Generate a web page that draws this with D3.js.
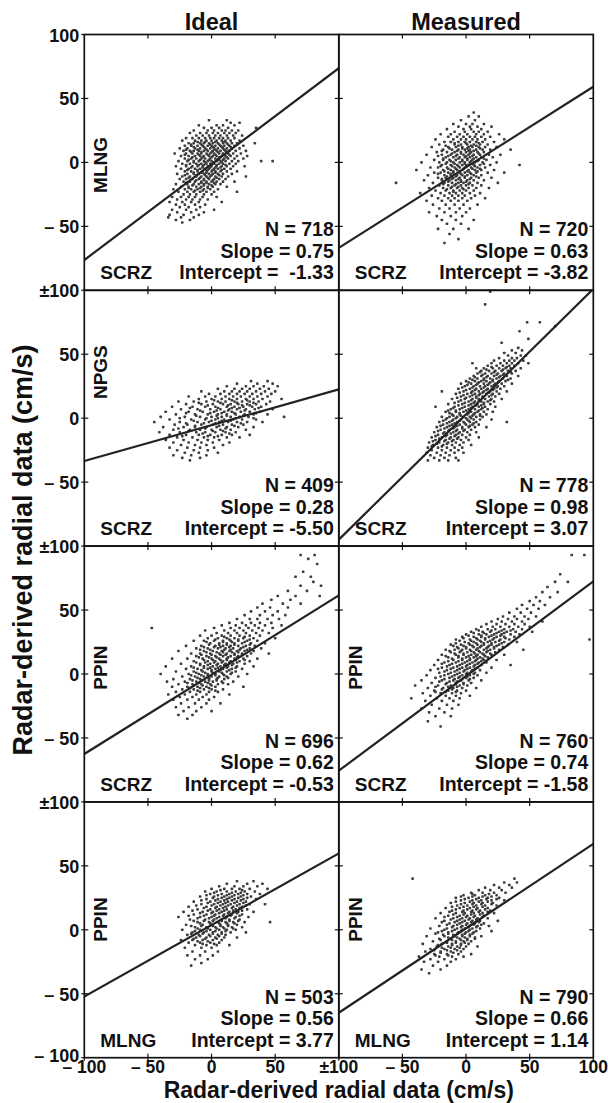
<!DOCTYPE html>
<html><head><meta charset="utf-8">
<script src="https://cdn.jsdelivr.net/npm/d3@7"></script>
<style>
body{margin:0;background:#fff}
svg{display:block;font-family:"Liberation Sans",Arial,Helvetica,sans-serif;font-weight:bold}
</style>
</head><body>
<svg id="chart" width="608" height="1103"></svg>
<script>
// ---------- data ----------
const columnTitles = ["Ideal", "Measured"];
const axisTitle = "Radar-derived radial data (cm/s)";
const yTickValues = [100, 50, 0, -50];
const yTickLabelsFirst = ["100", "50", "0", "\u2013 50"];
const yTickLabelsOther = ["\u00b1100", "50", "0", "\u2013 50"];
const yBottomLabel = "\u2013 100";
const xTickValues = [-100, -50, 0, 50, 100];
const xTickLabelsLeft = ["\u2013 100", "\u2013 50", "0", "50", "\u00b1100"];
const xTickLabelsRight = [null, "\u2013 50", "0", "50", "100"];

const sideStations = ["MLNG", null, "NPGS", null, "PPIN", "PPIN", "PPIN", "PPIN"];
const baseStations = ["SCRZ", "SCRZ", "SCRZ", "SCRZ", "SCRZ", "SCRZ", "MLNG", "MLNG"];
const counts = [718, 720, 409, 778, 696, 760, 503, 790];
const slopes = [0.75, 0.63, 0.28, 0.98, 0.62, 0.74, 0.56, 0.66];
const intercepts = [-1.33, -3.82, -5.50, 3.07, -0.53, -1.58, 3.77, 1.14];
const interceptGap = ["  ", " ", " ", " ", " ", " ", " ", " "];

// scatter values, rows of [y, [x, x, ...]]
const ptsIdealMLNG = [[33,[-2,12]],[31,[15,22]],[29,[-10,4,9,18]],[27,[-6,0,6,13,35]],[25,[-14,-3,2,8,11,16,21]],
[23,[-17,-9,-4,1,5,10,14,19]],[21,[-12,-7,-2,3,7,12,17,24]],[19,[-20,-15,-10,-5,-1,2,6,9,13,18]],
[17,[-23,-13,-8,-4,0,4,8,11,15,22]],[15,[-18,-14,-9,-6,-2,1,5,9,12,16,20,34]],[13,[-21,-16,-11,-7,-3,0,3,7,10,14,18,25]],
[11,[-25,-19,-13,-9,-5,-1,2,5,9,12,16,22]],[9,[-22,-17,-14,-10,-6,-3,1,4,7,11,14,19,27]],
[7,[-29,-20,-15,-11,-8,-4,-1,2,6,9,13,17,23]],[5,[-24,-18,-13,-9,-6,-2,1,4,8,11,15,20,28]],
[3,[-21,-16,-12,-8,-5,-1,3,6,10,13,18,25]],[1,[-26,-19,-14,-10,-6,-3,0,4,7,11,16,21,39,48]],
[-1,[-23,-17,-12,-8,-4,-1,2,6,9,14,19]],[-3,[-28,-20,-15,-11,-7,-3,0,4,8,12,17,26]],[-5,[-24,-18,-13,-9,-5,-2,2,5,10,15]],
[-7,[-21,-16,-11,-7,-4,0,3,7,12,20]],[-9,[-27,-19,-14,-10,-6,-2,1,5,9,16]],[-11,[-23,-17,-12,-8,-4,-1,3,8,13,27]],
[-13,[-25,-20,-15,-10,-6,-2,2,6,11]],[-15,[-22,-17,-13,-8,-4,0,4,9,18]],[-17,[-28,-19,-14,-10,-6,-2,3,7]],
[-19,[-24,-18,-12,-8,-3,1,12]],[-21,[-30,-21,-16,-11,-6,-1,5]],[-23,[-26,-19,-14,-9,-4,2,20]],[-25,[-22,-17,-12,-6,0]],
[-27,[-31,-24,-18,-13,-7,4]],[-29,[-27,-20,-15,-9,-3]],[-31,[-33,-23,-16,-10,8]],[-33,[-28,-21,-13,-5]],[-35,[-25,-18,-9]],
[-37,[-31,-20,-12,2]],[-39,[-27,-16,-6]],[-41,[-33,-22,-10]],[-43,[-34,-24,-14]],[-45,[-17,-28]],[-47,[-23]]];
const ptsIdealMLNGcore = [[16,[-11,-5,3,10]],[14,[-16,-8,-1,6,13]],[12,[-14,-6,1,8,15]],[10,[-20,-11,-4,3,10]],[8,[-16,-8,0,5,12]],
[6,[-21,-10,-3,3,9,14]],[4,[-15,-7,0,6,12]],[2,[-18,-9,-2,5,9]],[0,[-14,-5,2,8]],[-2,[-20,-10,-6,0,4,11]],[-4,[-16,-7,-1,3,7]],
[-6,[-19,-11,-3,1,8]],[-8,[-14,-8,-4,3]],[-10,[-21,-12,-5,0,6]],[-12,[-18,-9,-3,4]],[-14,[-12,-6,1]],[-16,[-20,-8,-4,2]],
[-18,[-15,-6,0]],[-20,[-18,-9,-3]],[-22,[-13,-7]]];

const ptsMeasMLNG = [[39,[6]],[36,[2,10]],[33,[-4,7]],[30,[-10,0,5,14]],[28,[-6,3,9,20]],[26,[-15,-2,4,12]],[24,[-9,-1,6,10,17]],
[22,[-20,-12,-5,1,8,14,26]],[20,[-14,-7,-2,3,7,12,19]],[18,[-24,-10,-4,0,5,9,15,30]],[16,[-17,-12,-6,-1,3,8,13,22]],
[14,[-21,-9,-4,1,6,11,17]],[12,[-27,-14,-8,-3,2,5,10,15,24]],[10,[-18,-11,-6,-1,3,8,13,19,35]],[8,[-23,-15,-9,-4,0,4,9,14]],
[6,[-31,-19,-12,-7,-2,2,6,11,18,27]],[4,[-16,-10,-5,-1,3,8,12,21]],[2,[-25,-18,-13,-8,-3,1,5,10,16]],
[0,[-35,-21,-15,-10,-5,-1,3,7,13,24]],[-2,[-19,-12,-7,-3,1,6,11,19,42]],[-4,[-28,-22,-15,-9,-5,-1,4,9,15]],
[-6,[-39,-18,-12,-7,-3,2,7,12,22]],[-8,[-25,-20,-14,-10,-5,-1,3,8,17,30]],[-10,[-30,-17,-12,-7,-3,1,6,12]],
[-12,[-22,-16,-10,-5,-1,4,10,20]],[-14,[-33,-19,-13,-8,-4,1,6,14]],[-16,[-55,-26,-17,-11,-6,-2,3,9,25]],
[-18,[-21,-14,-9,-4,0,5,12]],[-20,[-29,-18,-12,-7,-3,2,8,18]],[-22,[-24,-16,-10,-5,0,6]],[-24,[-36,-20,-13,-8,-3,3,11]],
[-26,[-27,-17,-11,-6,-1,7]],[-28,[-22,-14,-9,-3,4,15]],[-30,[-31,-19,-12,-6,1]],[-33,[-26,-16,-9,-2,9]],[-36,[-21,-13,-5,3]],
[-39,[-29,-17,-8,0]],[-42,[-23,-12,-3]],[-45,[-19,-8,6]],[-48,[-15,-4]],[-52,[-22,-10,2]],[-56,[-13]],[-60,[-6]],[-63,[-17]]];
const ptsMeasMLNGcore = [[15,[-9,0,10]],[13,[-16,-6,4,8]],[11,[-13,-3,1,11]],[9,[-19,-7,2,6]],[7,[-11,-4,3,10]],
[5,[-22,-14,-8,0,5]],[3,[-18,-6,1,6,14]],[1,[-12,-3,4,9]],[-1,[-16,-9,-1,3,14]],[-3,[-20,-11,-6,0,7]],[-5,[-14,-8,-2,5,11]],
[-7,[-17,-10,-5,1,9]],[-9,[-22,-12,-4,4]],[-11,[-15,-8,-1,8]],[-13,[-19,-11,-6,3]],[-15,[-14,-4,0]],[-17,[-18,-8,2]],
[-19,[-11,-6]],[-21,[-15,-2]],[-23,[-10]]];

const ptsIdealNPGS = [[29,[31,44]],[27,[20,36,48]],[25,[12,27,33,41,52]],[23,[5,18,24,30,38,45]],[21,[-8,10,16,22,28,35,42,50]],
[19,[-2,7,14,20,26,32,39,47]],[17,[-18,-5,3,11,17,23,30,36,44]],[15,[-10,0,8,14,20,27,33,40,55]],
[13,[-26,-14,-4,5,11,18,24,30,37,46]],[11,[-20,-8,1,9,15,21,28,35,43]],[9,[-31,-15,-5,3,12,18,25,32,39]],
[7,[-24,-11,-1,7,14,20,27,34,48]],[5,[-36,-18,-7,2,10,16,23,30,38]],[3,[-28,-13,-3,5,12,19,26,33,44]],
[1,[-40,-21,-9,0,8,15,22,29,57]],[-1,[-33,-16,-5,3,10,17,24,35]],[-3,[-45,-25,-11,-2,6,13,20,28,40]],
[-5,[-29,-19,-8,1,9,16,25]],[-7,[-38,-22,-13,-4,4,12,21,33]],[-9,[-30,-17,-9,0,7,15,27]],[-11,[-41,-25,-12,-5,3,11,19]],
[-13,[-33,-20,-10,-1,8,16,30]],[-15,[-27,-15,-6,2,12,22]],[-17,[-36,-22,-11,-3,6]],[-19,[-30,-18,-8,1,14]],
[-21,[-24,-13,-4,9]],[-23,[-33,-19,-9,2]],[-25,[-27,-14,-3]],[-27,[-21,-10,5]],[-29,[-30,-16,-4]],[-31,[-23,-9]],[-33,[-17]]];
const ptsIdealNPGScore = [[14,[2,16,28]],[12,[-10,7,20,33]],[10,[-3,13,24,30]],[8,[-17,5,16,22,37]],[6,[-9,4,13,26]],
[4,[-20,-1,8,18,35]],[2,[-12,4,12,25]],[0,[-25,-4,5,19,33]],[-2,[-14,0,8,15]],[-4,[-20,-6,3,23]],[-6,[-13,6,18]],
[-8,[-26,-5,11]],[-10,[-18,1,9]],[-12,[-7,14]],[-14,[-23,-3,5]]];

const ptsMeasNPGS = [[99,[19]],[89,[15]],[75,[48,58]],[72,[70]],[68,[42]],[62,[49]],[59,[28]],[55,[41]],[53,[36,44]],[51,[30,39]],
[49,[33,43,47]],[47,[26,36,40]],[45,[22,30,34,38,45]],[43,[5,20,27,32,36,41,49]],[41,[17,24,29,34,38]],
[39,[8,14,21,26,31,35,43]],[37,[12,18,23,28,33,39]],[35,[9,15,20,25,30,36]],[33,[6,12,17,22,27,32,41]],
[31,[3,9,14,19,24,29,35]],[29,[0,7,12,16,21,26,31]],[27,[-4,4,9,14,18,23,28,36]],[25,[-1,6,11,15,20,25,30]],
[23,[-6,3,8,12,17,22,27]],[21,[-19,-2,5,10,14,19,24,32]],[19,[-8,1,7,11,16,21,26]],[17,[-4,3,8,13,18,23]],
[15,[-11,-1,5,10,15,20,28]],[13,[-6,2,7,12,17,22]],[11,[-14,-3,4,9,14,19]],[9,[-24,-9,-1,5,10,15,23]],
[7,[-12,-5,2,7,12,17]],[5,[-16,-8,-2,4,9,14,21]],[3,[-11,-5,1,6,11,16]],[1,[-19,-13,-7,-2,3,8,13]],
[-1,[-16,-10,-4,1,6,11,20]],[-3,[-21,-13,-7,-2,3,8,32]],[-5,[-18,-11,-5,0,5,10]],[-7,[-23,-15,-9,-3,2,7,16]],
[-9,[-20,-13,-7,-1,4]],[-11,[-25,-17,-10,-5,1,8]],[-13,[-22,-15,-8,-3,3]],[-15,[-27,-19,-12,-6,0,10]],
[-17,[-24,-16,-10,-4,2]],[-19,[-29,-21,-14,-8,-2]],[-21,[-26,-18,-11,-5,4]],[-23,[-30,-22,-15,-9,-3]],
[-25,[-27,-19,-12,-6]],[-27,[-31,-23,-16,-9,-2]],[-29,[-28,-20,-13]],[-31,[-25,-17,-8]],[-33,[-30,-21,-14,-6]]];
const ptsMeasNPGScore = [[40,[20,32]],[38,[16,29]],[36,[11,22,35]],[34,[13,24,29]],[32,[7,16,26]],[30,[5,14,21,33]],
[28,[2,10,19,25]],[26,[1,8,17,22]],[24,[-3,5,14,24]],[22,[0,7,16,21]],[20,[-5,4,13,18]],[18,[-2,5,10,20]],[16,[-7,0,8,13]],
[14,[-4,4,10,19]],[12,[-9,-1,6,14]],[10,[-6,2,8,12]],[8,[-10,-3,4,13]],[6,[-14,-8,0,10]],[4,[-13,-5,2,7]],[2,[-10,-4,5,11]],
[0,[-15,-8,0,4]],[-2,[-18,-11,-5,2]],[-4,[-15,-9,-1,6]],[-6,[-20,-13,-7,3]],[-8,[-17,-10,-3]],[-10,[-22,-14,-8,-2]],
[-12,[-18,-12,-6]],[-14,[-24,-16,-9]],[-16,[-21,-13,-7]],[-18,[-26,-17,-11]],[-20,[-23,-15]],[-22,[-27,-19]]];

const ptsIdealPPIN = [[93,[70,81]],[90,[76]],[86,[83]],[80,[72]],[76,[66,78]],[72,[80]],[69,[70,86]],[65,[60,75]],[61,[52,66,85]],
[58,[47,62]],[55,[40,56,70]],[52,[36,46,60]],[49,[31,42,52]],[46,[26,38,48,58]],[43,[20,30,36,44,53]],[40,[14,24,31,38,47]],
[38,[8,19,27,34,42,55]],[36,[-47,2,15,22,29,37,48]],[34,[-5,10,18,25,32,40]],[32,[4,13,20,27,35,45]],
[30,[-9,0,8,15,22,30,38]],[28,[-3,5,12,18,25,33,50]],[26,[-14,-6,2,9,15,21,28,36]],[24,[-1,6,12,18,24,31,42]],
[22,[-20,-8,3,9,15,21,27,34]],[20,[-12,-3,5,11,17,23,30,39]],[18,[-26,-6,1,8,14,20,26,33]],
[16,[-16,-9,-1,6,12,18,24,31,45]],[14,[-12,-4,3,9,15,21,28]],[12,[-31,-19,-7,0,6,12,18,25,36]],
[10,[-14,-3,3,9,15,22,30]],[8,[-24,-9,-1,5,11,17,26]],[6,[-36,-16,-6,1,7,13,20,33]],[4,[-20,-11,-3,3,9,16,24]],
[2,[-28,-14,-7,0,6,12,19]],[0,[-40,-18,-10,-3,3,9,15,28]],[-2,[-23,-13,-6,0,6,12,21]],[-4,[-30,-17,-9,-2,4,10]],
[-6,[-35,-21,-12,-5,1,8,17]],[-8,[-26,-15,-8,-1,5,13]],[-10,[-31,-19,-11,-4,3,25]],[-12,[-23,-14,-6,0,9]],
[-14,[-28,-17,-9,-2,5]],[-16,[-34,-21,-12,-4,14]],[-18,[-25,-15,-7,2]],[-20,[-30,-19,-10,-2]],[-23,[-24,-13,-4,7]],
[-26,[-28,-18,-8]],[-29,[-22,-12,0]],[-32,[-26,-15]],[-35,[-19]]];
const ptsIdealPPINcore = [[29,[10,26]],[27,[3,14,21,30]],[25,[-4,9,16,26]],[23,[-2,6,12,18,30]],[21,[-6,2,7,14,25]],
[19,[-9,-1,10,15,22,28]],[17,[-4,4,9,16,21]],[15,[-8,0,7,11,18,24]],[13,[-10,-2,4,13,20]],[11,[-6,1,7,12,19,26]],
[9,[-12,-5,2,8,14,20]],[7,[-9,-3,4,10,16]],[5,[-14,-6,-1,5,12,19]],[3,[-8,0,7,14]],[1,[-12,-5,1,8,16]],
[-1,[-16,-8,-3,3,10]],[-3,[-11,-2,5,13]],[-5,[-15,-8,-2,4]],[-7,[-19,-10,-3,9]],[-9,[-14,-7,0]],[-11,[-17,-9,-2]],[-13,[-11,3]]];

const ptsMeasPPIN = [[93,[83,93]],[78,[74]],[72,[70,80]],[68,[64]],[64,[60,72]],[60,[55,66]],[57,[50,58]],[54,[44,53,62]],
[51,[40,48,57]],[48,[34,43,51]],[45,[29,38,46,55]],[43,[25,33,40,49]],[41,[20,28,36,44,60]],[39,[16,24,31,38,46]],
[37,[12,21,27,34,41,50]],[35,[8,17,23,30,37,44]],[33,[4,13,19,26,32,39,52]],[31,[0,10,16,22,28,35,42]],
[29,[-3,6,12,18,24,30,38]],[27,[-8,3,9,15,21,27,34,97]],[25,[-1,6,12,17,23,30,40]],[23,[-12,-4,3,9,14,20,26,33]],
[21,[-7,0,6,11,17,22,29]],[19,[-16,-9,-3,3,8,14,19,26,45]],[17,[-12,-5,1,6,11,16,23]],[15,[-19,-8,-2,4,9,14,20,30]],
[13,[-14,-6,0,6,11,17]],[11,[-22,-10,-3,3,8,14,24]],[9,[-17,-8,-1,5,10,16]],[7,[-25,-13,-5,1,7,12,35]],
[5,[-19,-10,-3,3,9,20]],[3,[-28,-15,-7,-1,5,11]],[1,[-21,-12,-5,1,7,16]],[-1,[-31,-17,-9,-3,3,9]],[-3,[-24,-13,-6,0,6]],
[-5,[-35,-19,-10,-4,2,12]],[-7,[-27,-15,-8,-2,4]],[-9,[-40,-22,-12,-5,1]],[-11,[-30,-18,-10,-3,8]],[-13,[-25,-14,-7,0]],
[-15,[-34,-20,-11,-4]],[-17,[-28,-16,-8,3]],[-19,[-43,-23,-13,-5]],[-21,[-32,-19,-10]],[-24,[-27,-15,-6]],
[-27,[-35,-21,-11]],[-30,[-29,-17]],[-33,[-24,-12]],[-37,[-30]],[-41,[-20]]];
const ptsMeasPPINcore = [[34,[10,20,28,35]],[32,[6,14,24,30]],[30,[2,12,20,27]],[28,[-2,8,15,22,31]],[26,[-5,4,11,19,26]],
[24,[-8,2,8,14,20,28]],[22,[-10,-2,5,12,18,24]],[20,[-6,0,9,16,22]],[18,[-13,-4,4,10,17]],[16,[-9,-2,7,13,19]],
[14,[-16,-6,2,8,15]],[12,[-11,-3,3,9,13]],[10,[-14,-6,1,7,12]],[8,[-19,-11,-3,3,9]],[6,[-15,-7,0,6]],[4,[-22,-12,-5,1,7]],
[2,[-17,-9,-2,4]],[0,[-14,-7,0,6]],[-2,[-20,-11,-5,1]],[-4,[-17,-9,-3,3]],[-6,[-21,-13,-7]],[-8,[-16,-8,-2]],
[-10,[-24,-14,-7]],[-12,[-19,-11]],[-14,[-24,-16,-8]]];

const ptsIdealPPIN2 = [[38,[20,33]],[36,[12,28,40]],[34,[6,18,25,36]],[32,[0,10,16,22,30,44]],[30,[-5,4,12,19,26,34]],
[28,[-1,8,14,21,28,38]],[26,[-9,2,10,16,23,31]],[24,[-4,5,12,18,25,35]],[22,[-14,-1,7,13,20,27]],[20,[-8,2,9,15,22,30,42]],
[18,[-18,-4,4,11,17,24]],[16,[-11,-1,6,12,19,28]],[14,[-22,-7,1,8,14,21,33]],[12,[-14,-4,3,10,16,24]],
[10,[-26,-9,0,6,12,19,29]],[8,[-17,-5,2,8,14,22]],[6,[-11,-2,5,11,17,26,46]],[4,[-20,-7,0,7,13,20]],[2,[-13,-4,3,9,16,24]],
[0,[-23,-9,-1,6,12,19]],[-2,[-15,-6,1,8,15,27]],[-4,[-19,-10,-2,5,11]],[-6,[-12,-4,3,10,20]],[-8,[-24,-15,-7,1,8]],
[-10,[-18,-9,-1,6]],[-12,[-13,-4,4,14]],[-14,[-21,-8,0]],[-17,[-15,-5,5]],[-20,[-19,-9,1]],[-23,[-13,-3]],[-26,[-8]],[-28,[-16]]];
const ptsIdealPPIN2core = [[31,[7,24]],[29,[2,16,23]],[27,[-4,5,12,18,25]],[25,[1,8,14,21,28]],[23,[-8,3,10,16,23]],
[21,[-3,5,11,18,25]],[19,[-12,0,7,13,20,27]],[17,[-6,3,9,16,22]],[15,[-15,-3,4,10,17,24]],[13,[-9,0,6,13,20]],
[11,[-18,-6,2,9,15,22]],[9,[-11,-2,4,11,18]],[7,[-14,-6,1,8,14,21]],[5,[-9,-1,6,12,18]],[3,[-16,-8,1,7,13]],
[1,[-11,-3,4,10,17]],[-1,[-13,-4,3,11]],[-3,[-16,-7,1,8]],[-5,[-9,-1,6]],[-7,[-14,-5,4]],[-9,[-11,-3]],[-11,[-7,2]]];

const ptsMeasPPIN2 = [[40,[-42,38]],[37,[30,40]],[35,[22,34]],[33,[15,26,36]],[31,[10,19,28]],[29,[4,13,22,31]],[27,[-2,7,15,24]],
[25,[-8,2,10,17,26]],[23,[-4,5,12,20,30]],[21,[-12,-1,6,13,21]],[19,[-7,1,8,15,24]],[17,[-16,-5,3,9,17]],[15,[-11,-2,5,11,19]],
[13,[-20,-8,-1,6,13,22]],[11,[-14,-5,1,7,14]],[9,[-24,-10,-3,3,9,17]],[7,[-17,-7,-1,5,11,25]],[5,[-13,-5,1,7,14]],
[3,[-21,-10,-3,3,9,18]],[1,[-28,-15,-7,-1,5,11]],[-1,[-19,-11,-4,2,8,20]],[-3,[-24,-14,-7,-1,5]],[-5,[-31,-17,-9,-3,3,12]],
[-7,[-21,-12,-5,1,7]],[-9,[-26,-15,-8,-2,4]],[-11,[-34,-19,-11,-4,2]],[-13,[-23,-14,-7,0,9]],[-15,[-28,-17,-9,-2]],
[-17,[-32,-20,-12,-4]],[-19,[-25,-15,-6,4]],[-21,[-37,-21,-11,-2]],[-23,[-28,-17,-8]],[-25,[-33,-22,-12]],[-28,[-26,-15]],
[-31,[-35,-20]],[-34,[-29]]];
const ptsMeasPPIN2core = [[28,[5,18]],[26,[-4,5,13,20]],[24,[-1,8,16,24]],[22,[-8,3,10,17]],[20,[-4,5,12,20]],
[18,[-11,-2,6,13]],[16,[-8,1,8,15]],[14,[-13,-3,4,10,17]],[12,[-10,-2,4,11]],[10,[-17,-7,0,6,13]],[8,[-12,-5,2,8]],
[6,[-19,-9,-3,4,10]],[4,[-15,-7,0,6,12]],[2,[-11,-4,2,8]],[0,[-17,-9,-3,3]],[-2,[-22,-14,-6,0,6]],[-4,[-18,-10,-3,3]],
[-6,[-14,-7,-1,7]],[-8,[-20,-11,-4,1]],[-10,[-15,-8,-1]],[-12,[-22,-11,-4]],[-14,[-19,-12,-5]],[-16,[-25,-15,-7]],
[-18,[-20,-10]],[-20,[-24,-14]]];

const pointSets = [
  ptsIdealMLNG.concat(ptsIdealMLNGcore), ptsMeasMLNG.concat(ptsMeasMLNGcore),
  ptsIdealNPGS.concat(ptsIdealNPGScore), ptsMeasNPGS.concat(ptsMeasNPGScore),
  ptsIdealPPIN.concat(ptsIdealPPINcore), ptsMeasPPIN.concat(ptsMeasPPINcore),
  ptsIdealPPIN2.concat(ptsIdealPPIN2core), ptsMeasPPIN2.concat(ptsMeasPPIN2core)];
const sideLabelY = [-2, null, 36, null, 5, 5, 8, 8];

// ---------- layout ----------
const X0 = 84.3, COLW = 254.5, Y0 = 34.5, ROWH = 255.8;
const svg = d3.select("#chart");
const ink = "#111";
const DOT = 2.6;

columnTitles.forEach((t, i) => {
  svg.append("text").attr("x", X0 + COLW * i + COLW / 2).attr("y", 29.5)
    .attr("text-anchor", "middle").attr("font-size", 23.5).attr("fill", ink).text(t);
});

svg.append("text").attr("x", X0 + COLW).attr("y", 1098).attr("text-anchor", "middle")
  .attr("font-size", 23).attr("fill", ink).text(axisTitle);
svg.append("text").attr("transform", "translate(32,550) rotate(-90)").attr("text-anchor", "middle")
  .attr("font-size", 27).attr("fill", ink).text(axisTitle);

pointSets.forEach((rows, k) => {
  const col = k % 2, row = Math.floor(k / 2);
  const left = X0 + COLW * col, top = Y0 + ROWH * row;
  const x = d3.scaleLinear().domain([-100, 100]).range([left, left + COLW]);
  const y = d3.scaleLinear().domain([-100, 100]).range([top + ROWH, top]);
  const g = svg.append("g");
  const clipId = "clip" + k;
  svg.append("clipPath").attr("id", clipId).append("rect")
    .attr("x", left).attr("y", top).attr("width", COLW).attr("height", ROWH);

  const pts = rows.flatMap(([yy, xs]) => xs.map(xx => [xx, yy]));
  g.append("g").attr("clip-path", `url(#${clipId})`).selectAll("rect").data(pts).join("rect")
    .attr("x", d => x(d[0]) - DOT / 2).attr("y", d => y(d[1]) - DOT / 2)
    .attr("width", DOT).attr("height", DOT).attr("rx", 0.7).attr("fill", "#3c3c3c");

  const line = d3.line().x(d => x(d)).y(d => y(intercepts[k] + slopes[k] * d));
  g.append("path").attr("clip-path", `url(#${clipId})`).attr("d", line([-100, 100]))
    .attr("fill", "none").attr("stroke", "#222").attr("stroke-width", 2.2);

  g.append("rect").attr("x", left).attr("y", top).attr("width", COLW).attr("height", ROWH)
    .attr("fill", "none").attr("stroke", ink).attr("stroke-width", 1.7);

  const tk = g.append("g").attr("stroke", ink).attr("stroke-width", 1.2);
  [-50, 0, 50].forEach(v => {
    tk.append("line").attr("x1", x(v)).attr("x2", x(v)).attr("y1", top).attr("y2", top + 4);
    tk.append("line").attr("x1", x(v)).attr("x2", x(v)).attr("y1", top + ROWH).attr("y2", top + ROWH - 4);
    tk.append("line").attr("y1", y(v)).attr("y2", y(v)).attr("x1", left).attr("x2", left + 4);
    tk.append("line").attr("y1", y(v)).attr("y2", y(v)).attr("x1", left + COLW).attr("x2", left + COLW - 4);
  });

  if (col === 0) {
    const labs = row === 0 ? yTickLabelsFirst : yTickLabelsOther;
    yTickValues.forEach((v, i) => {
      tk.append("line").attr("y1", y(v)).attr("y2", y(v)).attr("x1", left - 3).attr("x2", left);
      svg.append("text").attr("x", left - 5).attr("y", y(v) + 7).attr("text-anchor", "end")
        .attr("font-size", 18).attr("fill", ink).text(labs[i]);
    });
    if (row === 3) {
      tk.append("line").attr("y1", y(-100)).attr("y2", y(-100)).attr("x1", left - 3).attr("x2", left);
      svg.append("text").attr("x", left - 5).attr("y", y(-100) + 4).attr("text-anchor", "end")
        .attr("font-size", 18).attr("fill", ink).text(yBottomLabel);
    }
  }
  if (row === 3) {
    const labs = col === 0 ? xTickLabelsLeft : xTickLabelsRight;
    xTickValues.forEach((v, i) => {
      if (labs[i] === null) return;
      tk.append("line").attr("x1", x(v)).attr("x2", x(v)).attr("y1", top + ROWH).attr("y2", top + ROWH + 3);
      svg.append("text").attr("x", x(v)).attr("y", top + ROWH + 15.5).attr("text-anchor", "middle")
        .attr("font-size", 17.5).attr("fill", ink).text(labs[i]);
    });
  }

  if (sideStations[k]) {
    svg.append("text").attr("transform", `translate(${left + 23},${y(sideLabelY[k])}) rotate(-90)`)
      .attr("text-anchor", "middle").attr("font-size", 19).attr("fill", ink).text(sideStations[k]);
  }
  svg.append("text").attr("x", left + 16).attr("y", top + ROWH - 11)
    .attr("font-size", 19).attr("fill", ink).text(baseStations[k]);

  const right = left + COLW - 5;
  const stats = ["N = " + counts[k], "Slope = " + slopes[k].toFixed(2),
    "Intercept =" + interceptGap[k] + intercepts[k].toFixed(2)];
  [-54, -32.5, -11].forEach((off, i) => {
    svg.append("text").attr("x", right).attr("y", top + ROWH + off).attr("text-anchor", "end")
      .attr("font-size", 19.5).attr("fill", ink).style("white-space", "pre").text(stats[i]);
  });
});
</script>
</body></html>
